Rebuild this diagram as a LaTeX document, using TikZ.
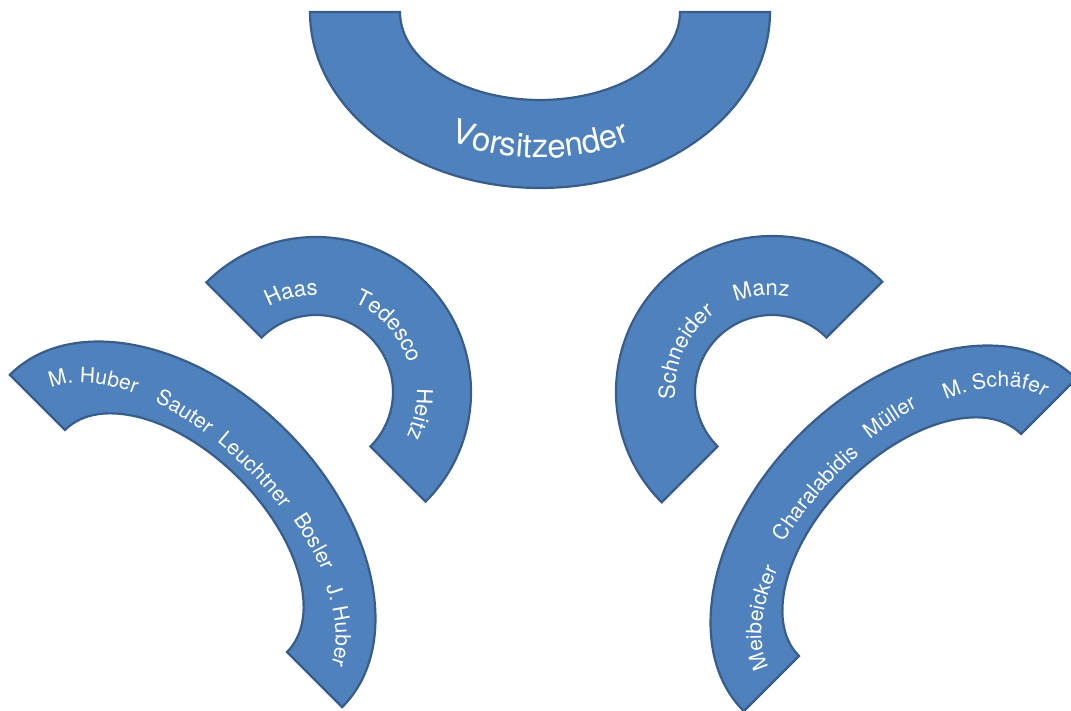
\documentclass[tikz,border=0pt]{standalone}
\usepackage{fontspec}
\usepackage{tikz}
\usetikzlibrary{decorations.text}
\newfontfamily\heros{TeX Gyre Heros}
\definecolor{arcfill}{HTML}{4F81BD}
\definecolor{arcline}{HTML}{385D8A}
\begin{document}
\begin{tikzpicture}[x=1pt, y=1pt,
  blockarc/.style={fill=arcfill, draw=arcline, line width=2.2pt},
  word/.style={decorate, decoration={text along path, text align=center,
      text={|\heros\fontsize{22pt}{22pt}\selectfont\color{white}|#1}}},
  smallword/.style={decorate, decoration={text along path, text align=center,
      text={|\heros\fontsize{21pt}{21pt}\selectfont\color{white}|#1}}},
  bigword/.style={decorate, decoration={text along path, text align=center,
      text={|\heros\fontsize{33pt}{33pt}\selectfont\color{white}|#1}}}]

\clip (0,0) rectangle (1071,711);

% Vorsitzender
\begin{scope}[shift={(540,699)}]
\draw[blockarc] (180:230pt and 176pt) arc[start angle=180, end angle=360, x radius=230pt, y radius=176pt]
   -- (0:140pt and 88pt) arc[start angle=0, end angle=-180, x radius=140pt, y radius=88pt] -- cycle;
\path[bigword={Vorsitzender}] (230:190pt and 146pt) arc[start angle=230, end angle=310, x radius=190pt, y radius=146pt];
\end{scope}

% Haas, Tedesco, Heitz
\begin{scope}[shift={(316,319)}]
\draw[blockarc] (135:155pt) arc[start angle=135, end angle=-45, radius=155pt]
   -- (-45:77pt) arc[start angle=-45, end angle=135, radius=77pt] -- cycle;
\path[word={Haas}]    (144:97pt) arc[start angle=144, end angle=64, radius=97pt];
\path[word={Tedesco}] (82:97pt)  arc[start angle=82, end angle=2, radius=97pt];
\path[word={Heitz}]   (28:101pt) arc[start angle=28, end angle=-52, radius=101pt];
\end{scope}

% Schneider, Manz
\begin{scope}[shift={(772,319)}]
\draw[blockarc] (45:156pt) arc[start angle=45, end angle=225, radius=156pt]
   -- (225:77pt) arc[start angle=225, end angle=45, radius=77pt] -- cycle;
\path[word={Schneider}] (195:97pt) arc[start angle=195, end angle=115, radius=97pt];
\path[word={Manz}]      (136:97pt) arc[start angle=136, end angle=56, radius=97pt];
\end{scope}

% M. Huber ... J. Huber
\begin{scope}[shift={(176,170)}, rotate=-45]
\draw[blockarc] (180:235pt and 156pt) arc[start angle=180, end angle=0, x radius=235pt, y radius=156pt]
   -- (0:157pt and 89pt) arc[start angle=0, end angle=180, x radius=157pt, y radius=89pt] -- cycle;
\path[smallword={M. Huber}]  (173:200pt and 101pt)   arc[start angle=173, end angle=129, x radius=200pt, y radius=101pt];
\path[smallword={Sauter}]    (131.5:200pt and 101pt) arc[start angle=131.5, end angle=99.5, x radius=200pt, y radius=101pt];
\path[smallword={Leuchtner}] (106.4:200pt and 101pt) arc[start angle=106.4, end angle=70.4, x radius=200pt, y radius=101pt];
\path[smallword={Bosler}]    (75:203pt and 104pt)    arc[start angle=75, end angle=47, x radius=203pt, y radius=104pt];
\path[smallword={J. Huber}]  (50:202pt and 101pt)    arc[start angle=50, end angle=8, x radius=202pt, y radius=101pt];
\end{scope}

% Meibeicker ... M. Schaefer
\begin{scope}[shift={(910,166)}, rotate=45]
\draw[blockarc] (0:235pt and 156pt) arc[start angle=0, end angle=180, x radius=235pt, y radius=156pt]
   -- (180:157pt and 89pt) arc[start angle=180, end angle=0, x radius=157pt, y radius=89pt] -- cycle;
\path[smallword={Meibeicker}]   (174.5:188pt and 94pt)  arc[start angle=174.5, end angle=124.5, x radius=188pt, y radius=94pt];
\path[smallword={Charalabidis}] (120:200pt and 101pt)   arc[start angle=120, end angle=78, x radius=200pt, y radius=101pt];
\path[smallword={Müller}]       (81.2:205pt and 106pt)  arc[start angle=81.2, end angle=55.2, x radius=205pt, y radius=106pt];
\path[smallword={M. Schäfer}]   (53:200pt and 101pt)    arc[start angle=53, end angle=1, x radius=200pt, y radius=101pt];
\end{scope}

\end{tikzpicture}
\end{document}
